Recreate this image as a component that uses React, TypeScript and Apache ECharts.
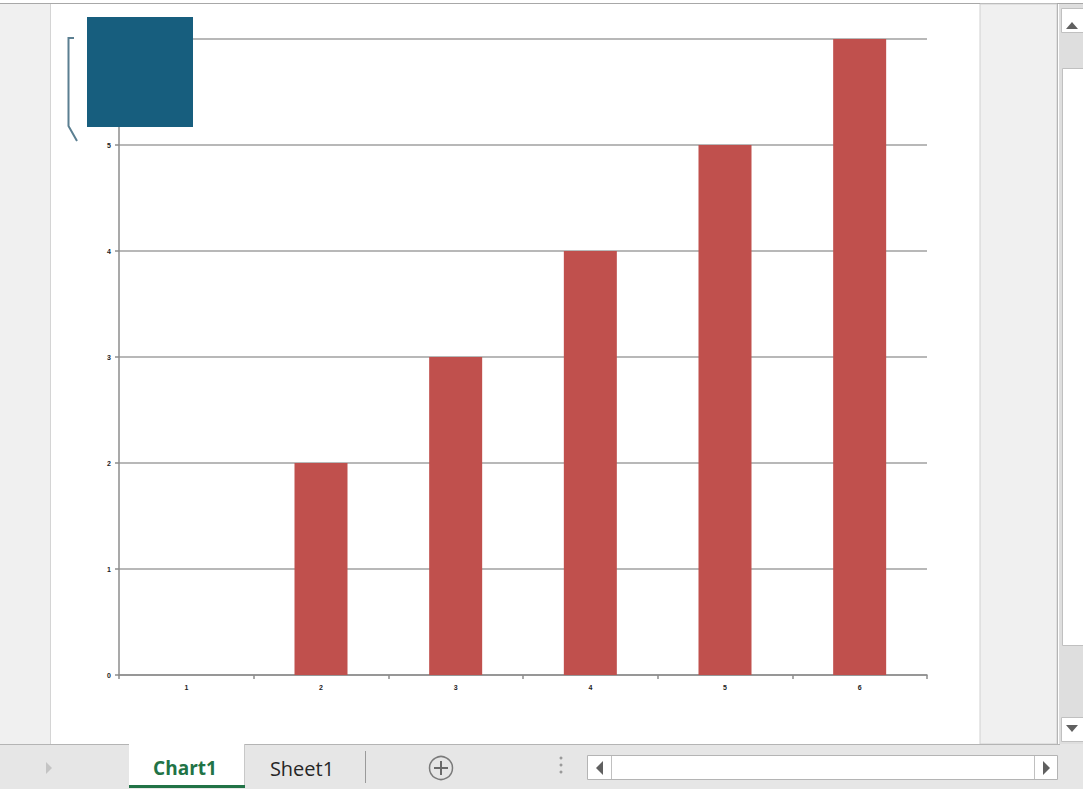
import React, { useEffect, useRef } from "react";
import * as echarts from "echarts";

const categories = ["1", "2", "3", "4", "5", "6"];
const values: (number | null)[] = [null, 2, 3, 4, 5, 6];
const yTicks = [0, 1, 2, 3, 4, 5, 6];
const sheetTabs = ["Chart1", "Sheet1"];

export default function App() {
  const ref = useRef<HTMLDivElement>(null);
  useEffect(() => {
    if (!ref.current) return;
    const chart = echarts.init(ref.current, null, { renderer: "svg" });
    const gray = "#f0f0f0";
    chart.setOption({
      animation: false,
      backgroundColor: "#ffffff",
      grid: { left: 119, top: 39, width: 808, height: 636 },
      xAxis: {
        type: "category",
        data: categories,
        axisLine: { lineStyle: { color: "#8c8c8c", width: 1.5 } },
        axisTick: { show: true, length: 4, alignWithLabel: false, lineStyle: { color: "#8c8c8c", width: 1.5 } },
        axisLabel: { fontSize: 7, fontWeight: "bold", color: "#222", margin: 9, fontFamily: "Liberation Sans" },
      },
      yAxis: {
        type: "value",
        min: 0,
        max: 6,
        interval: 1,
        axisLine: { show: true, lineStyle: { color: "#8c8c8c", width: 1.5 } },
        axisTick: { show: true, length: 4, lineStyle: { color: "#8c8c8c", width: 1.5 } },
        axisLabel: {
          fontSize: 7,
          fontWeight: "bold",
          color: "#222",
          margin: 8,
          fontFamily: "Liberation Sans",
          formatter: (v: number) => (yTicks.includes(v) ? String(v) : ""),
        },
        splitLine: { lineStyle: { color: "#a0a0a0", width: 1.5 } },
      },
      series: [
        {
          type: "bar",
          data: values,
          barWidth: 53,
          itemStyle: { color: "#c0504d" },
        },
      ],
      graphic: [
        { type: "line", shape: { x1: 0, y1: 3.5, x2: 1083, y2: 3.5 }, style: { stroke: "#a8a8a8", lineWidth: 1 }, z: 100 },
        { type: "rect", shape: { x: 0, y: 4, width: 50, height: 740 }, style: { fill: gray }, z: 100 },
        { type: "line", shape: { x1: 50.5, y1: 4, x2: 50.5, y2: 744 }, style: { stroke: "#d4d4d4", lineWidth: 1 }, z: 100 },
        { type: "rect", shape: { x: 980, y: 4, width: 77, height: 740 }, style: { fill: gray, stroke: "#d0d0d0", lineWidth: 1 }, z: 100 },
        { type: "line", shape: { x1: 1057.5, y1: 4, x2: 1057.5, y2: 744 }, style: { stroke: "#b4b4b4", lineWidth: 1 }, z: 100 },
        { type: "rect", shape: { x: 1059, y: 4, width: 24, height: 740 }, style: { fill: "#dedede" }, z: 100 },
        { type: "rect", shape: { x: 1061.5, y: 8.5, width: 22, height: 24 }, style: { fill: "#ffffff", stroke: "#c0c0c0", lineWidth: 1 }, z: 101 },
        { type: "polygon", shape: { points: [[1066, 29], [1078, 29], [1072, 22]] }, style: { fill: "#606060" }, z: 102 },
        { type: "rect", shape: { x: 1062.5, y: 68.5, width: 21, height: 577 }, style: { fill: "#ffffff", stroke: "#c0c0c0", lineWidth: 1 }, z: 101 },
        { type: "rect", shape: { x: 1061.5, y: 717.5, width: 22, height: 24 }, style: { fill: "#ffffff", stroke: "#c0c0c0", lineWidth: 1 }, z: 101 },
        { type: "polygon", shape: { points: [[1066, 725], [1078, 725], [1072, 732]] }, style: { fill: "#606060" }, z: 102 },
        { type: "rect", shape: { x: 0, y: 744, width: 1083, height: 45 }, style: { fill: "#e6e6e6" }, z: 100 },
        { type: "line", shape: { x1: 0, y1: 744.5, x2: 1060, y2: 744.5 }, style: { stroke: "#b4b4b4", lineWidth: 1 }, z: 101 },
        { type: "polygon", shape: { points: [[46, 762], [46, 774], [52, 768]] }, style: { fill: "#c4c4c4" }, z: 101 },
        { type: "rect", shape: { x: 129, y: 744, width: 115, height: 42 }, style: { fill: "#ffffff" }, z: 101 },
        { type: "line", shape: { x1: 129, y1: 744.5, x2: 244, y2: 744.5 }, style: { stroke: "#ffffff", lineWidth: 1 }, z: 102 },
        { type: "line", shape: { x1: 244.5, y1: 744, x2: 244.5, y2: 786 }, style: { stroke: "#c8c8c8", lineWidth: 1 }, z: 102 },
        { type: "rect", shape: { x: 129, y: 785, width: 116, height: 3 }, style: { fill: "#217346" }, z: 102 },
        {
          type: "text", x: 185, y: 768,
          style: { text: sheetTabs[0], fill: "#217346", font: "bold 19px 'Open Sans', 'Noto Sans', sans-serif", align: "center", verticalAlign: "middle" },
          z: 103,
        },
        {
          type: "text", x: 302, y: 768,
          style: { text: sheetTabs[1], fill: "#262626", font: "20px 'Open Sans', 'Noto Sans', sans-serif", align: "center", verticalAlign: "middle" },
          z: 103,
        },
        { type: "line", shape: { x1: 365.5, y1: 751, x2: 365.5, y2: 783 }, style: { stroke: "#9a9a9a", lineWidth: 1 }, z: 101 },
        { type: "circle", shape: { cx: 441, cy: 768, r: 11.5 }, style: { fill: "none", stroke: "#7a7a7a", lineWidth: 1.5 }, z: 101 },
        { type: "line", shape: { x1: 434, y1: 768, x2: 448, y2: 768 }, style: { stroke: "#6a6a6a", lineWidth: 2 }, z: 102 },
        { type: "line", shape: { x1: 441, y1: 761, x2: 441, y2: 775 }, style: { stroke: "#6a6a6a", lineWidth: 2 }, z: 102 },
        { type: "circle", shape: { cx: 561, cy: 758, r: 1.5 }, style: { fill: "#9a9a9a" }, z: 101 },
        { type: "circle", shape: { cx: 561, cy: 765, r: 1.5 }, style: { fill: "#9a9a9a" }, z: 101 },
        { type: "circle", shape: { cx: 561, cy: 772, r: 1.5 }, style: { fill: "#9a9a9a" }, z: 101 },
        { type: "rect", shape: { x: 587.5, y: 755.5, width: 470, height: 24 }, style: { fill: "#ffffff", stroke: "#b4b4b4", lineWidth: 1 }, z: 101 },
        { type: "line", shape: { x1: 611.5, y1: 756, x2: 611.5, y2: 779 }, style: { stroke: "#c0c0c0", lineWidth: 1 }, z: 102 },
        { type: "line", shape: { x1: 1034.5, y1: 756, x2: 1034.5, y2: 779 }, style: { stroke: "#c0c0c0", lineWidth: 1 }, z: 102 },
        { type: "polygon", shape: { points: [[596, 768], [603, 761], [603, 775]] }, style: { fill: "#606060" }, z: 102 },
        { type: "polygon", shape: { points: [[1050, 768], [1043, 761], [1043, 775]] }, style: { fill: "#606060" }, z: 102 },
        { type: "polyline", shape: { points: [[74, 38], [68.5, 38], [68.5, 126], [77, 141]] }, style: { stroke: "#5b7f91", lineWidth: 2, fill: "none" }, z: 100 },
        { type: "rect", shape: { x: 87, y: 17, width: 106, height: 110 }, style: { fill: "#175e7e" }, z: 100 },
      ],
    });
    return () => chart.dispose();
  }, []);
  return (
    <div
      ref={ref}
      style={{ position: "fixed", left: 0, top: 0, width: 1083, height: 789 }}
    />
  );
}
